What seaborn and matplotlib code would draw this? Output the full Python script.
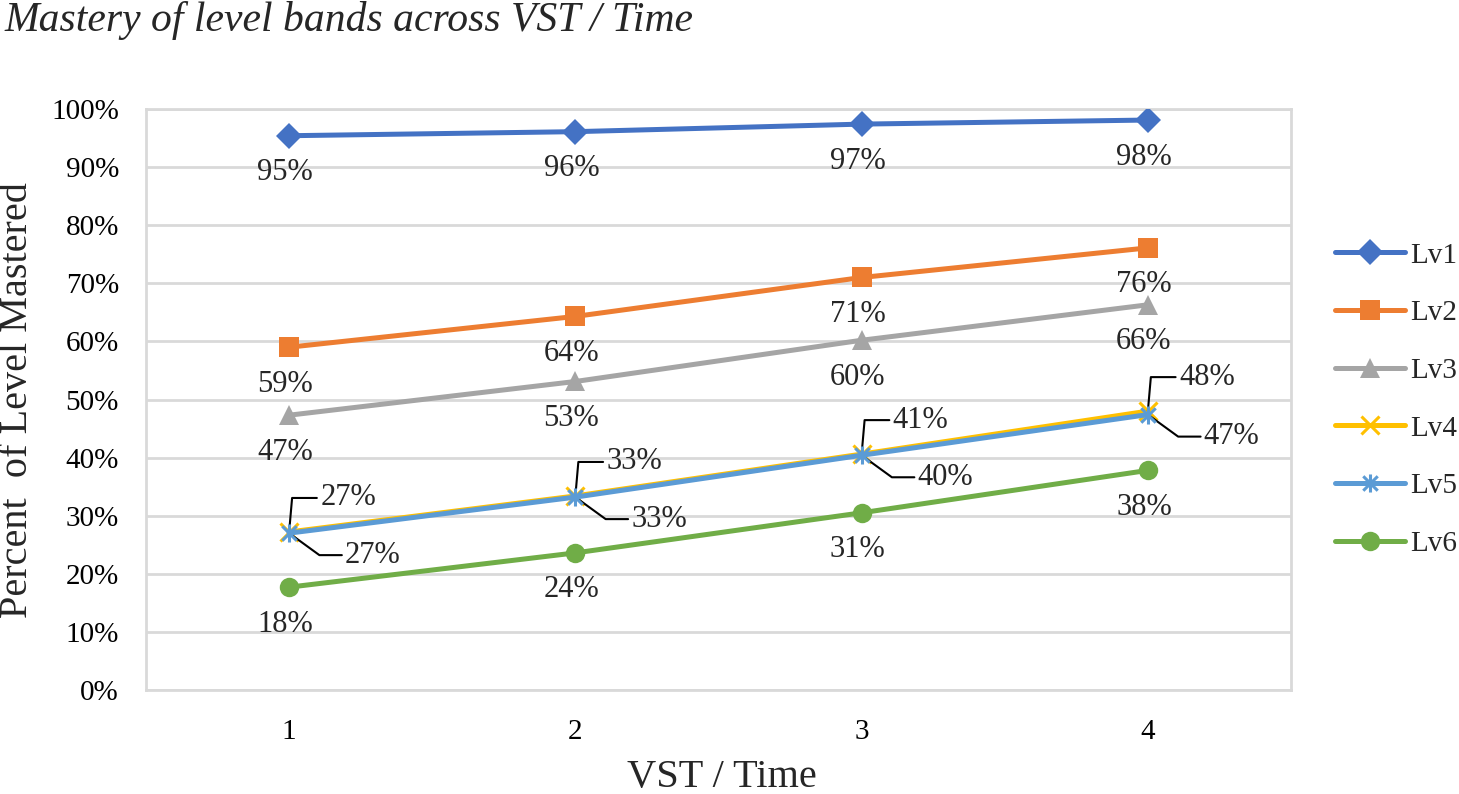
import numpy as np
import pandas as pd
import matplotlib
matplotlib.use("Agg")
import matplotlib.pyplot as plt
from matplotlib.path import Path
import seaborn as sns

# ---- data ----
times = [1, 2, 3, 4]
levels = ["Lv1", "Lv2", "Lv3", "Lv4", "Lv5", "Lv6"]
lv1 = [95.4, 96.1, 97.4, 98.1]
lv2 = [59.0, 64.3, 71.0, 76.1]
lv3 = [47.3, 53.1, 60.2, 66.3]
lv4 = [27.2, 33.4, 40.6, 48.0]
lv5 = [27.0, 33.2, 40.4, 47.4]
lv6 = [17.7, 23.6, 30.5, 37.8]
label1 = ["95%", "96%", "97%", "98%"]
label2 = ["59%", "64%", "71%", "76%"]
label3 = ["47%", "53%", "60%", "66%"]
label4 = ["27%", "33%", "41%", "48%"]
label5 = ["27%", "33%", "40%", "47%"]
label6 = ["18%", "24%", "31%", "38%"]
yticks = [0, 10, 20, 30, 40, 50, 60, 70, 80, 90, 100]
ytick_labels = ["0%", "10%", "20%", "30%", "40%", "50%", "60%", "70%", "80%", "90%", "100%"]
title = "Mastery of level bands across VST / Time"
xlabel = "VST / Time"
ylabel = "Percent  of Level Mastered"

series = [lv1, lv2, lv3, lv4, lv5, lv6]
labels = [label1, label2, label3, label4, label5, label6]
colors = ["#4472C4", "#ED7D31", "#A5A5A5", "#FFC000", "#5B9BD5", "#70AD47"]

# Excel-like star marker: X plus vertical line
star = Path([(-1, -1), (1, 1), (-1, 1), (1, -1), (0, -1.25), (0, 1.25)],
            [Path.MOVETO, Path.LINETO, Path.MOVETO, Path.LINETO, Path.MOVETO, Path.LINETO])
markers = ["D", "s", "^", "x", star, "o"]
msizes = [13, 14, 14, 13, 13, 14]

df = pd.DataFrame({
    "time": np.tile(times, len(levels)),
    "value": np.concatenate(series),
    "level": np.repeat(levels, len(times)),
})

sns.set_theme(style="white")
plt.rcParams["font.family"] = ["Liberation Serif", "DejaVu Serif"]

fig = plt.figure(figsize=(14.59, 7.94), dpi=100)
ax = fig.add_axes([146 / 1459, 1 - 690 / 794, (1291 - 146) / 1459, (690 - 109) / 794])

for i, lv in enumerate(levels):
    sub = df[df["level"] == lv]
    mk = markers[i]
    if mk == "x" or mk is star:
        kw = dict(markeredgewidth=2.2, markeredgecolor=colors[i])
    else:
        kw = dict(markeredgewidth=0)
    sns.lineplot(data=sub, x="time", y="value", ax=ax, color=colors[i], linewidth=3.6,
                 marker=mk, markersize=msizes[i], label=lv, zorder=3 + (1 if i == 4 else 0), **kw)

ax.set_xlim(0.5, 4.5)
ax.set_ylim(0, 100)
ax.set_yticks(yticks)
ax.set_yticklabels(ytick_labels)
ax.set_xticks(times)
ax.set_xticklabels([str(t) for t in times])
ax.tick_params(axis="both", length=0, labelsize=21, colors="black")
ax.tick_params(axis="y", pad=19.5)
ax.tick_params(axis="x", pad=21)
ax.grid(axis="y", color="#D9D9D9", linewidth=2)
ax.set_axisbelow(True)
for s in ax.spines.values():
    s.set_color("#D9D9D9")
    s.set_linewidth(2)

ax.set_xlabel(xlabel, fontsize=29, va="center")
ax.xaxis.set_label_coords((722 - 146) / 1145, (690 - 778) / 581)
ax.set_ylabel(ylabel, fontsize=29, va="center")
ax.yaxis.set_label_coords((18 - 146) / 1145, (690 - 400) / 581)
fig.text(4 / 1459, 1 - 20 / 794, title, fontsize=30, style="italic", ha="left", va="center")

# data labels
for i in [0, 1, 2, 5]:
    for t, v, lab in zip(times, series[i], labels[i]):
        ax.annotate(lab, (t, v), xytext=(-4, -37), textcoords="offset pixels",
                    ha="center", va="center", fontsize=22)

# Lv4 labels above-right with leader lines
for t, v, lab in zip(times, lv4, labels[3]):
    ax.annotate(lab, (t, v), xytext=(31, 34), textcoords="offset pixels",
                ha="left", va="center", fontsize=22,
                arrowprops=dict(arrowstyle="-", color="black", lw=1.5, shrinkA=0, shrinkB=0,
                                relpos=(0, 0.5),
                                connectionstyle="angle,angleA=0,angleB=85,rad=0"))
# Lv5 labels below-right with leader lines
for t, v, lab in zip(times, lv5, labels[4]):
    ax.annotate(lab, (t, v), xytext=(56, -22), textcoords="offset pixels",
                ha="left", va="center", fontsize=22,
                arrowprops=dict(arrowstyle="-", color="black", lw=1.5, shrinkA=0, shrinkB=0,
                                relpos=(0, 0.5),
                                connectionstyle="angle,angleA=0,angleB=-36,rad=0"))

leg = ax.legend(loc="center left", bbox_to_anchor=((1309 - 146) / 1145, 0.5), frameon=False,
                fontsize=21, handlelength=2.4, labelspacing=1.07, handletextpad=0.17)

fig.savefig("out.png", dpi=100)
